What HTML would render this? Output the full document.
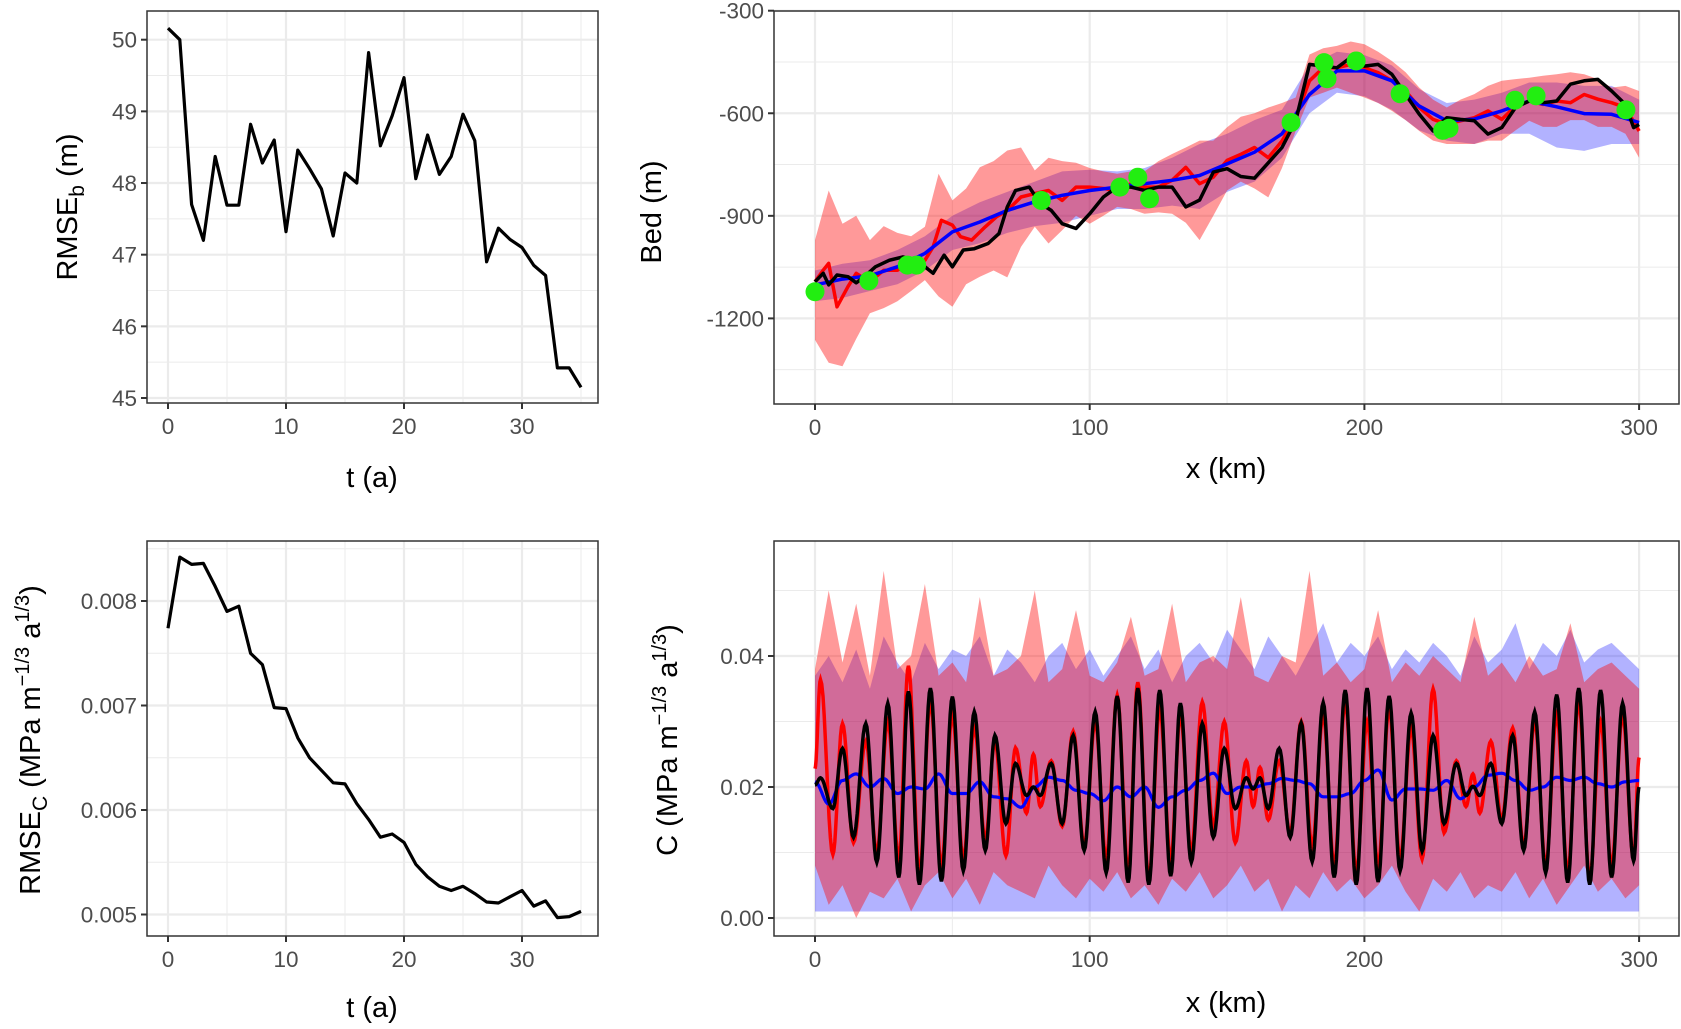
<!DOCTYPE html>
<html><head><meta charset="utf-8"><style>
html,body{margin:0;padding:0;background:#fff}
svg{display:block;font-family:"Liberation Sans",sans-serif}
</style></head><body>
<svg id="fig" width="1681" height="1029" viewBox="0 0 1681 1029" xmlns="http://www.w3.org/2000/svg"></svg>
<script>
// ---------- Data ----------
const tYears=[0,1,2,3,4,5,6,7,8,9,10,11,12,13,14,15,16,17,18,19,20,21,22,23,24,25,26,27,28,29,30,31,32,33,34,35];
const rmseB=[50.16,50.0,47.7,47.2,48.37,47.69,47.69,48.82,48.28,48.6,47.32,48.46,48.2,47.92,47.26,48.14,48.0,49.82,48.52,48.94,49.47,48.06,48.67,48.12,48.37,48.96,48.59,46.9,47.37,47.21,47.1,46.85,46.71,45.42,45.42,45.15];
const rmseC=[0.00774,0.00842,0.00835,0.00836,0.00814,0.0079,0.00795,0.0075,0.00739,0.00698,0.00697,0.00669,0.0065,0.00638,0.00626,0.00625,0.00606,0.00591,0.00574,0.00577,0.00569,0.00548,0.00536,0.00527,0.00523,0.00527,0.0052,0.00512,0.00511,0.00517,0.00523,0.00508,0.00513,0.00497,0.00498,0.00503];
const tTicks=[0,10,20,30];
const bTicks=[45,46,47,48,49,50];
const cTicksL=[0.005,0.006,0.007,0.008];
const cTicksLLabels=["0.005","0.006","0.007","0.008"];

const bedBlackX=[0,3,5,8,12,15,18,22,27,32,36,40,43,47,50,54,58,63,67,70,73,78,82,86,90,95,100,105,110,115,120,125,130,135,140,145,150,155,160,165,170,175,180,185,190,195,200,205,210,215,220,225,230,235,240,245,250,255,260,265,270,275,280,285,290,295,298,300];
const bedBlack=[-1093,-1068,-1102,-1073,-1078,-1096,-1078,-1049,-1030,-1020,-1030,-1049,-1068,-1015,-1049,-1000,-996,-981,-952,-874,-826,-816,-864,-884,-923,-937,-894,-845,-816,-816,-826,-816,-816,-874,-854,-772,-762,-785,-790,-745,-700,-622,-457,-462,-467,-437,-462,-457,-486,-545,-603,-652,-613,-618,-622,-661,-642,-583,-564,-569,-564,-515,-505,-501,-535,-574,-642,-633];
const bedRedX=[0,3,5,8,12,15,20,25,30,35,40,43,46,50,53,57,62,66,70,75,80,85,90,95,100,105,110,115,120,125,130,135,140,145,150,155,160,165,170,175,180,185,190,195,200,205,210,215,220,225,230,235,240,245,250,255,260,265,270,275,280,285,290,295,300];
const bedRed=[-1093,-1059,-1039,-1166,-1107,-1068,-1093,-1059,-1059,-1040,-1030,-991,-913,-927,-961,-971,-932,-903,-884,-845,-835,-826,-855,-816,-816,-820,-826,-806,-816,-816,-796,-758,-806,-787,-738,-720,-700,-730,-681,-613,-505,-467,-467,-457,-467,-481,-505,-535,-583,-618,-632,-622,-613,-593,-618,-579,-564,-574,-564,-569,-545,-559,-569,-583,-652];
const bedBlueX=[0,10,20,30,40,50,60,70,80,90,100,110,120,130,140,150,160,170,180,190,200,210,220,230,240,250,260,270,280,290,300];
const bedBlue=[-1102,-1085,-1075,-1049,-1010,-947,-918,-884,-859,-840,-826,-816,-806,-796,-782,-748,-714,-660,-545,-476,-476,-505,-579,-622,-617,-593,-564,-581,-601,-603,-627];
const blueBandUp=[-1060,-1040,-1030,-1000,-960,-900,-860,-830,-800,-770,-765,-770,-760,-730,-690,-660,-620,-590,-460,-420,-430,-460,-530,-570,-560,-540,-510,-510,-520,-520,-560];
const blueBandLo=[-1150,-1140,-1120,-1100,-1060,-1000,-980,-950,-930,-920,-900,-880,-880,-870,-880,-830,-800,-730,-600,-540,-550,-590,-650,-680,-690,-660,-660,-700,-710,-690,-690];
const bandX5=[0,5,10,15,20,25,30,35,40,45,50,55,60,65,70,75,80,85,90,95,100,105,110,115,120,125,130,135,140,145,150,155,160,165,170,175,180,185,190,195,200,205,210,215,220,225,230,235,240,245,250,255,260,265,270,275,280,285,290,295,300];
const redBandUp=[-971,-826,-923,-900,-971,-930,-950,-960,-932,-777,-855,-820,-758,-740,-709,-700,-767,-730,-740,-745,-760,-770,-777,-770,-770,-740,-719,-700,-680,-680,-641,-610,-600,-583,-570,-554,-428,-410,-403,-390,-398,-420,-447,-480,-525,-560,-583,-560,-544,-520,-505,-500,-496,-490,-486,-480,-486,-500,-525,-520,-535];
const redBandLo=[-1263,-1330,-1340,-1260,-1185,-1170,-1150,-1120,-1088,-1136,-1166,-1100,-1078,-1060,-1080,-991,-932,-981,-942,-900,-923,-900,-874,-880,-894,-890,-894,-920,-971,-900,-826,-800,-820,-846,-760,-652,-554,-540,-525,-540,-554,-570,-593,-620,-652,-680,-690,-690,-690,-680,-680,-650,-622,-640,-640,-620,-620,-640,-640,-660,-730];
const obsX=[0,19.6,33.6,37,82.4,111,117.5,121.8,173.3,185.3,186.4,197,213,228.5,230.8,254.8,262.5,295.2];
const obsBed=[-1122,-1090,-1044,-1044,-855,-816,-787,-850,-627,-452,-499,-447,-543,-650,-644,-562,-549,-590];
const kmTicks=[0,100,200,300];
const bedTicks=[-300,-600,-900,-1200];

const cBlackX=[0,2,6.5,10,14,18.5,22.5,26.5,30.5,34,38,42,46,50,54,58,62,65.5,69.5,73,77,79.5,82,86,90,94,98,102,106,110,114,117.5,121.5,125.5,129.5,133,137,141,145,149,153,157,159.5,162,165,169,173,177,181,185,189,193,197,201,205,209,213,217,221,225,229,233.5,237,239.5,242,246,250,254,258,262,266,270,274,278,282,286,290,294,298,300];
const cBlack=[0.0203,0.0214,0.0167,0.0259,0.0123,0.0297,0.0085,0.0328,0.0062,0.0346,0.0051,0.0351,0.0056,0.0338,0.0072,0.0315,0.0103,0.0279,0.0144,0.0236,0.0187,0.0200,0.0187,0.0236,0.0144,0.0279,0.0103,0.0315,0.0069,0.0339,0.0054,0.0351,0.0051,0.0348,0.0064,0.0328,0.0085,0.0297,0.0123,0.0259,0.0167,0.0214,0.0197,0.0214,0.0167,0.0259,0.0123,0.0298,0.0086,0.0329,0.0062,0.0348,0.0051,0.0351,0.0055,0.0339,0.0072,0.0313,0.0102,0.0279,0.0144,0.0236,0.0187,0.0201,0.0187,0.0236,0.0144,0.0279,0.0103,0.0315,0.0069,0.0341,0.0054,0.0351,0.0051,0.0348,0.0062,0.0328,0.0087,0.0200];
const cRed=[0.0228,0.0364,0.0097,0.0297,0.0115,0.0270,0.0100,0.0300,0.0090,0.0385,0.0070,0.0330,0.0080,0.0310,0.0090,0.0290,0.0120,0.0270,0.0095,0.0260,0.0160,0.0250,0.0170,0.0240,0.0140,0.0285,0.0110,0.0300,0.0090,0.0340,0.0070,0.0360,0.0060,0.0320,0.0090,0.0310,0.0100,0.0330,0.0140,0.0300,0.0115,0.0240,0.0170,0.0230,0.0150,0.0240,0.0130,0.0300,0.0110,0.0310,0.0080,0.0330,0.0070,0.0300,0.0080,0.0320,0.0090,0.0290,0.0090,0.0350,0.0130,0.0240,0.0170,0.0220,0.0160,0.0270,0.0150,0.0290,0.0110,0.0300,0.0080,0.0310,0.0070,0.0330,0.0060,0.0300,0.0080,0.0310,0.0090,0.0245];
const cBlue=[0.0208,0.0174,0.0210,0.0220,0.0200,0.0213,0.0190,0.0200,0.0197,0.0220,0.0190,0.0190,0.0208,0.0185,0.0182,0.0169,0.0200,0.0215,0.0210,0.0195,0.0190,0.0179,0.0200,0.0185,0.0200,0.0169,0.0185,0.0195,0.0210,0.0221,0.0190,0.0200,0.0200,0.0205,0.0213,0.0210,0.0205,0.0185,0.0185,0.0190,0.0210,0.0226,0.0180,0.0197,0.0197,0.0195,0.0210,0.0182,0.0200,0.0218,0.0221,0.0210,0.0195,0.0200,0.0215,0.0210,0.0215,0.0205,0.0200,0.0208,0.0210];
const cBlueBandUp=[0.037,0.040,0.036,0.041,0.035,0.043,0.039,0.036,0.042,0.038,0.041,0.040,0.043,0.037,0.041,0.039,0.036,0.040,0.042,0.038,0.041,0.037,0.040,0.043,0.038,0.041,0.036,0.040,0.042,0.039,0.044,0.041,0.038,0.043,0.040,0.037,0.041,0.045,0.039,0.042,0.040,0.043,0.038,0.041,0.039,0.042,0.040,0.037,0.043,0.039,0.041,0.045,0.038,0.042,0.040,0.044,0.039,0.041,0.042,0.040,0.038];
const cBlueBandLo=[0.001,0.001,0.001,0.001,0.001,0.001,0.001,0.001,0.001,0.001,0.001,0.001,0.001,0.001,0.001,0.001,0.001,0.001,0.001,0.001,0.001,0.001,0.001,0.001,0.001,0.001,0.001,0.001,0.001,0.001,0.001,0.001,0.001,0.001,0.001,0.001,0.001,0.001,0.001,0.001,0.001,0.001,0.001,0.001,0.001,0.001,0.001,0.001,0.001,0.001,0.001,0.001,0.001,0.001,0.001,0.001,0.001,0.001,0.001,0.001,0.001];
const cRedBandUp=[0.038,0.050,0.039,0.048,0.037,0.053,0.038,0.040,0.051,0.037,0.039,0.036,0.049,0.037,0.038,0.040,0.050,0.036,0.038,0.047,0.037,0.036,0.039,0.046,0.037,0.038,0.048,0.036,0.039,0.040,0.038,0.049,0.037,0.036,0.040,0.039,0.053,0.037,0.039,0.036,0.038,0.047,0.036,0.039,0.037,0.040,0.038,0.036,0.046,0.037,0.039,0.036,0.040,0.037,0.038,0.045,0.036,0.038,0.039,0.037,0.035];
const cRedBandLo=[0.008,0.002,0.005,0.000,0.004,0.003,0.006,0.001,0.005,0.007,0.003,0.006,0.002,0.007,0.005,0.004,0.003,0.008,0.005,0.003,0.006,0.004,0.007,0.003,0.005,0.002,0.006,0.004,0.007,0.003,0.005,0.008,0.004,0.006,0.001,0.005,0.003,0.007,0.004,0.006,0.003,0.005,0.008,0.004,0.001,0.006,0.004,0.007,0.003,0.005,0.004,0.007,0.003,0.006,0.002,0.005,0.008,0.004,0.006,0.003,0.005];
const cTicksR=[0,0.02,0.04];
const cTicksRLabels=["0.00","0.02","0.04"];

// ---------- Helpers ----------
const NS="http://www.w3.org/2000/svg";
const svg=document.getElementById('fig');
function mk(tag,attrs,parent){const e=document.createElementNS(NS,tag);for(const k in attrs)e.setAttribute(k,attrs[k]);(parent||svg).appendChild(e);return e;}
function lin(d0,d1,p0,p1){return v=>p0+(v-d0)*(p1-p0)/(d1-d0);}
function panel(name,x0,x1,y0,y1,sx,sy,xMaj,xMin,yMaj,yMin,yLabels,xLabels){
  const g=mk('g',{});
  
  
  xMin.forEach(v=>mk('line',{x1:sx(v),x2:sx(v),y1:y0,y2:y1,stroke:'#ebebeb','stroke-width':1},g));
  yMin.forEach(v=>mk('line',{x1:x0,x2:x1,y1:sy(v),y2:sy(v),stroke:'#ebebeb','stroke-width':1},g));
  xMaj.forEach(v=>mk('line',{x1:sx(v),x2:sx(v),y1:y0,y2:y1,stroke:'#ebebeb','stroke-width':2.2},g));
  yMaj.forEach(v=>mk('line',{x1:x0,x2:x1,y1:sy(v),y2:sy(v),stroke:'#ebebeb','stroke-width':2.2},g));
  const data=mk('g',{},g);
  
  
  const ax=mk('g',{},g);
  
  
  xMaj.forEach((v,i)=>{mk('line',{x1:sx(v),x2:sx(v),y1:y1,y2:y1+6,stroke:'#333','stroke-width':2},ax);
    const t=mk('text',{x:sx(v),y:y1+31,'text-anchor':'middle','font-size':22.5,fill:'#4d4d4d'},ax);t.textContent=xLabels[i];
    
    });
  yMaj.forEach((v,i)=>{mk('line',{x1:x0-6,x2:x0,y1:sy(v),y2:sy(v),stroke:'#333','stroke-width':2},ax);
    const t=mk('text',{x:x0-10,y:sy(v)+8,'text-anchor':'end','font-size':22.5,fill:'#4d4d4d'},ax);t.textContent=yLabels[i];
    
    });
  mk('rect',{x:x0,y:y0,width:x1-x0,height:y1-y0,fill:'none',stroke:'#333','stroke-width':1.5},ax);
  const cp=mk('clipPath',{id:name+'-clip'});mk('rect',{x:x0,y:y0,width:x1-x0,height:y1-y0},cp);
  data.setAttribute('clip-path','url(#'+name+'-clip)');
  return data;
}
function poly(xs,ys,sx,sy){let s='';const n=Math.min(xs.length,ys.length);for(let i=0;i<n;i++)s+=(i?'L':'M')+sx(xs[i]).toFixed(1)+','+sy(ys[i]).toFixed(1);return s;}
function band(xs,up,lo,sx,sy){const n=Math.min(xs.length,up.length,lo.length);let s='';for(let i=0;i<n;i++)s+=(i?'L':'M')+sx(xs[i]).toFixed(1)+','+sy(up[i]).toFixed(1);for(let i=n-1;i>=0;i--)s+='L'+sx(xs[i]).toFixed(1)+','+sy(lo[i]).toFixed(1);return s+'Z';}
function smooth(xs,ys,sx,sy){let s='';const n=Math.min(xs.length,ys.length);
  for(let i=0;i<n-1;i++){for(let k=0;k<=10;k++){if(i>0&&k===0)continue;const f=k/10,w=(1-Math.cos(Math.PI*f))/2;
    const x=xs[i]+(xs[i+1]-xs[i])*f,y=ys[i]+(ys[i+1]-ys[i])*w;s+=(s?'L':'M')+sx(x).toFixed(1)+','+sy(y).toFixed(1);}}return s;}
function title(txt,x,y,rot,name){const t=mk('text',{x:x,y:y,'text-anchor':'middle','font-size':29,fill:'#000',transform:rot?`rotate(-90 ${x} ${y})`:''});t.innerHTML=txt;
  
  return t;}

// ---------- Panel 1: RMSE_b ----------
{const sx=lin(0,10,168,286),sy=lin(45,50,398,39.7);
 const d=panel('rmse-b-panel',147,598,11,403,sx,sy,tTicks,[5,15,25,35],bTicks,[45.5,46.5,47.5,48.5,49.5],bTicks.map(String),tTicks.map(String));
 const p=mk('path',{d:poly(tYears,rmseB,sx,sy),fill:'none',stroke:'#000','stroke-width':3.2,'stroke-linejoin':'round'},d);
 
 }
title('t (a)',372,487,false,'x-axis-title-time');
title('RMSE<tspan font-size="21" dy="7">b</tspan><tspan dy="-7"> (m)</tspan>',77,207,true,'y-axis-title-rmse-b');

// ---------- Panel 2: RMSE_C ----------
{const sx=lin(0,10,168,286),sy=lin(0.005,0.008,914.5,601);
 const d=panel('rmse-c-panel',147,598,541,936,sx,sy,tTicks,[5,15,25,35],cTicksL,[0.0055,0.0065,0.0075,0.0085],cTicksLLabels,tTicks.map(String));
 const p=mk('path',{d:poly(tYears,rmseC,sx,sy),fill:'none',stroke:'#000','stroke-width':3.2,'stroke-linejoin':'round'},d);
 
 }
title('t (a)',372,1017,false,'x-axis-title-time-2');
title('RMSE<tspan font-size="21" dy="7">C</tspan><tspan dy="-7"> (MPa m</tspan><tspan font-size="20" dy="-11">−1/3</tspan><tspan dy="11"> a</tspan><tspan font-size="20" dy="-11">1/3</tspan><tspan dy="11">)</tspan>',40,740,true,'y-axis-title-rmse-c');

// ---------- Panel 3: Bed ----------
{const sx=lin(0,100,815,1089.7),sy=lin(-300,-1200,10.7,318.4);
 const d=panel('bed-panel',774,1679,11,404,sx,sy,kmTicks,[50,150,250],bedTicks,[-450,-750,-1050,-1350],bedTicks.map(String),kmTicks.map(String));
 const bb=mk('path',{d:band(bedBlueX,blueBandUp,blueBandLo,sx,sy),fill:'rgba(0,0,255,0.3)'},d);
 
 
 const rb=mk('path',{d:band(bandX5,redBandUp,redBandLo,sx,sy),fill:'rgba(255,0,0,0.4)'},d);
 
 
 const r=mk('path',{d:poly(bedRedX,bedRed,sx,sy),fill:'none',stroke:'#f00','stroke-width':3.5,'stroke-linejoin':'round'},d);
 
 
 const b=mk('path',{d:poly(bedBlueX,bedBlue,sx,sy),fill:'none',stroke:'#00f','stroke-width':3.5,'stroke-linejoin':'round'},d);
 
 
 const k=mk('path',{d:poly(bedBlackX,bedBlack,sx,sy),fill:'none',stroke:'#000','stroke-width':3.5,'stroke-linejoin':'round'},d);
 
 
 obsX.forEach((x,i)=>{const c=mk('circle',{cx:sx(x),cy:sy(obsBed[i]),r:9.5,fill:'#22ee11'},d);
   
   });}
title('x (km)',1226,478,false,'x-axis-title-km');
title('Bed (m)',661,212,true,'y-axis-title-bed');

// ---------- Panel 4: C ----------
{const sx=lin(0,100,815,1089.7),sy=lin(0,0.04,918,656);
 const d=panel('c-panel',774,1679,541,936,sx,sy,kmTicks,[50,150,250],cTicksR,[0.01,0.03,0.05],cTicksRLabels,kmTicks.map(String));
 const bb=mk('path',{d:band(bandX5,cBlueBandUp,cBlueBandLo,sx,sy),fill:'rgba(0,0,255,0.3)'},d);
 
 
 const rb=mk('path',{d:band(bandX5,cRedBandUp,cRedBandLo,sx,sy),fill:'rgba(255,0,0,0.4)'},d);
 
 
 const r=mk('path',{d:smooth(cBlackX,cRed,sx,sy),fill:'none',stroke:'#f00','stroke-width':3.5},d);
 
 
 const b=mk('path',{d:smooth(bandX5,cBlue,sx,sy),fill:'none',stroke:'#00f','stroke-width':3.2},d);
 
 
 const k=mk('path',{d:smooth(cBlackX,cBlack,sx,sy),fill:'none',stroke:'#000','stroke-width':3.5},d);
 
 }
title('x (km)',1226,1012,false,'x-axis-title-km-2');
title('C (MPa m<tspan font-size="20" dy="-11">−1/3</tspan><tspan dy="11"> a</tspan><tspan font-size="20" dy="-11">1/3</tspan><tspan dy="11">)</tspan>',677,740,true,'y-axis-title-c');
</script>
</body></html>
